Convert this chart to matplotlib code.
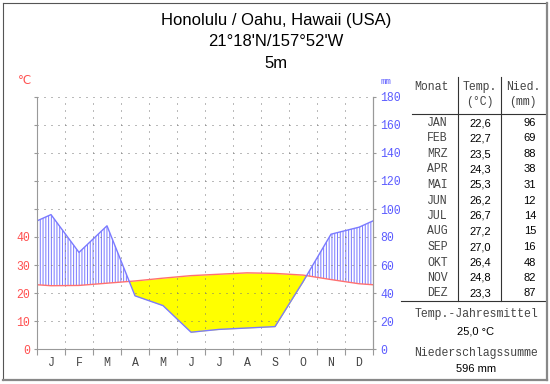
import numpy as np
import matplotlib
matplotlib.use('Agg')
import matplotlib.pyplot as plt
from matplotlib.lines import Line2D

# climate data Honolulu
months = ['J', 'F', 'M', 'A', 'M', 'J', 'J', 'A', 'S', 'O', 'N', 'D']
month_abbr = ['JAN', 'FEB', 'MRZ', 'APR', 'MAI', 'JUN', 'JUL', 'AUG', 'SEP', 'OKT', 'NOV', 'DEZ']
temp = [22.6, 22.7, 23.5, 24.3, 25.3, 26.2, 26.7, 27.2, 27.0, 26.4, 24.8, 23.3]
prec = [96, 69, 88, 38, 31, 12, 14, 15, 16, 48, 82, 87]
temp_labels = ['22,6', '22,7', '23,5', '24,3', '25,3', '26,2', '26,7', '27,2', '27,0', '26,4', '24,8', '23,3']
title_lines = ['Honolulu / Oahu, Hawaii (USA)', "21°18'N/157°52'W", '5m']
mean_temp = '25,0 °C'
sum_prec = '596 mm'

plt.rcParams['hatch.linewidth'] = 0.75
MONO = 'Liberation Mono'
SANS = 'Liberation Sans'
RED = '#ff5050'
BLUE = '#5c5cff'
GRAY = '#444444'
TSIZE = 8.3

W, H = 550, 384
fig = plt.figure(figsize=(W / 100, H / 100), dpi=100)
fx = lambda px: px / W
fy = lambda py: 1 - py / H

# month centers plus the year wrap at both edges
x = np.arange(12) + 0.5
t_edge = (temp[0] + temp[-1]) / 2
p_edge = (prec[0] + prec[-1]) / 2
xe = np.r_[0, x, 12]
te = np.r_[t_edge, temp, t_edge]
pe = np.r_[p_edge, prec, p_edge] / 2  # 20 mm = 10 degC

ax = fig.add_axes([fx(37), fy(349), 336 / W, 252 / H])
ax.set_xlim(0, 12)
ax.set_ylim(0, 90)

# humid period: vertical hatch, arid period: yellow
ax.fill_between(xe, te, pe, where=pe >= te, interpolate=True,
                facecolor='none', edgecolor='#8080ff', hatch='||||||', linewidth=0)
ax.fill_between(xe, te, pe, where=te >= pe, interpolate=True,
                color='#ffff00', linewidth=0)
ax.plot(xe, te, color='#ff7070', lw=1)
ax.plot(xe, pe, color='#7a7aff', lw=1)

# axes styling
for s in ['left', 'right', 'bottom']:
    ax.spines[s].set_color('#999999')
ax.spines['top'].set_visible(False)
ax.set_xticks(range(13))
ax.set_xticklabels([])
ax.set_xticks(x, minor=True)
ax.set_xticklabels(months, minor=True, fontfamily=MONO, fontsize=8.3, color=GRAY)
ax.tick_params(axis='x', which='major', length=4, color='#999999', direction='out')
ax.tick_params(axis='x', which='minor', length=0, pad=6)
ax.set_yticks(range(0, 100, 10))
ax.set_yticklabels([str(v) if v <= 40 else '' for v in range(0, 100, 10)],
                   fontfamily=MONO, fontsize=8.3, color=RED)
ax.tick_params(axis='y', length=2, color='#999999', pad=3)
ax.grid(True, which='major', color='#777777', lw=0.72, linestyle=(0, (1, 6)))

ax2 = ax.twinx()
ax2.set_ylim(0, 180)
ax2.set_yticks(range(0, 200, 20))
ax2.set_yticklabels([str(v) for v in range(0, 200, 20)], fontfamily=MONO,
                    fontsize=8.3, color=BLUE)
ax2.tick_params(axis='y', length=2, color='#999999', pad=3)
for s in ['left', 'top', 'bottom']:
    ax2.spines[s].set_visible(False)
ax2.spines['right'].set_color('#999999')

fig.text(fx(25), fy(80), '°C', color=RED, fontsize=8.5, ha='center', va='center')
fig.text(fx(386), fy(81), 'mm', color=BLUE, fontfamily=MONO, fontsize=6.5,
         ha='center', va='center')

# title
for i, line in enumerate(title_lines):
    fig.text(fx(276), fy(20 + 22 * i), line, fontfamily=SANS, fontsize=12,
             ha='center', va='center', color='black')

# table
def mono(px, py, s, ha='center'):
    fig.text(fx(px), fy(py), s, fontfamily=MONO, fontsize=TSIZE, color=GRAY,
             ha=ha, va='center')

def sans(px, py, s, ha='center'):
    fig.text(fx(px), fy(py), s, fontfamily=SANS, fontsize=8, color='black',
             ha=ha, va='center')

mono(431, 87, 'Monat')
mono(480, 87, 'Temp.')
mono(480, 102, '(°C)')
mono(523, 87, 'Nied.')
mono(523, 102, '(mm)')
for i in range(12):
    yy = 123 + 15.5 * i
    mono(448, yy, month_abbr[i], ha='right')
    sans(491, yy, temp_labels[i], ha='right')
    sans(536, yy, str(prec[i]), ha='right')

fig.add_artist(Line2D([fx(458), fx(458)], [fy(77), fy(301)], color='#333333', lw=0.8))
fig.add_artist(Line2D([fx(501), fx(501)], [fy(77), fy(301)], color='#333333', lw=0.8))
fig.add_artist(Line2D([fx(412), fx(546)], [fy(114), fy(114)], color='#333333', lw=0.8))
fig.add_artist(Line2D([fx(401), fx(546)], [fy(301), fy(301)], color='#333333', lw=0.8))

mono(476, 314, 'Temp.-Jahresmittel')
sans(476, 332, mean_temp)
mono(476, 353, 'Niederschlagssumme')
sans(476, 369, sum_prec)

# frame around the whole picture
fig.add_artist(Line2D([fx(2.5), fx(547)], [fy(2.5), fy(2.5)], color='#555555', lw=0.8))
fig.add_artist(Line2D([fx(2.5), fx(2.5)], [fy(2.5), fy(380)], color='#555555', lw=0.8))
fig.add_artist(Line2D([fx(547), fx(547)], [fy(2.5), fy(380)], color='#888888', lw=1.6))
fig.add_artist(Line2D([fx(2.5), fx(547)], [fy(380), fy(380)], color='#888888', lw=1.6))

fig.savefig('out.png', dpi=100)
